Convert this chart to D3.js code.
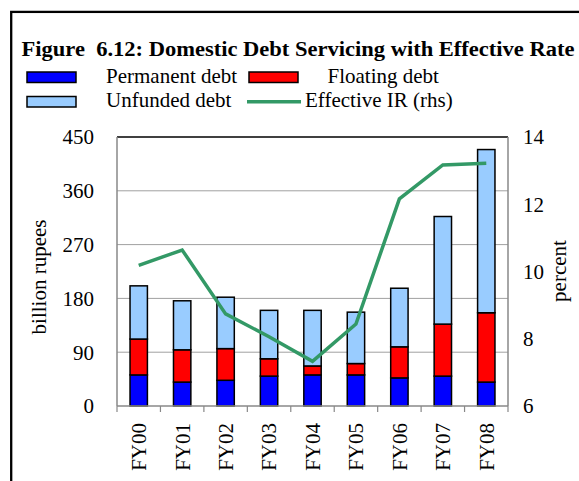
<!DOCTYPE html>
<html>
<head>
<meta charset="utf-8">
<script src="https://cdn.jsdelivr.net/npm/d3@7"></script>
<style>
  html, body { margin: 0; padding: 0; background: #fff; }
  svg { display: block; }
  text { font-family: "Liberation Serif", "Times New Roman", serif; fill: #000; white-space: pre; }
</style>
</head>
<body>
<svg id="chart" width="579" height="481"></svg>
<script>
// ---- data ----
const categories = ["FY00", "FY01", "FY02", "FY03", "FY04", "FY05", "FY06", "FY07", "FY08"];
const permanentDebt = [52, 40, 43, 50, 52, 52, 47, 50, 40];
const floatingDebt  = [60, 54, 53, 29, 15, 19, 52, 87, 116];
const unfundedDebt  = [89, 82, 86, 81, 93, 86, 98, 180, 273];
const effectiveIR   = [10.18, 10.64, 8.74, 8.06, 7.33, 8.44, 12.16, 13.17, 13.22];
const leftTicks  = [0, 90, 180, 270, 360, 450];
const rightTicks = [6, 8, 10, 12, 14];
const seriesNames = ["Permanent debt", "Floating debt", "Unfunded debt"];
const seriesColors = ["#0000FF", "#FF0000", "#99CCFF"];
const lineColor = "#339966";
const titleText = "Figure  6.12: Domestic Debt Servicing with Effective Rate";

// ---- layout ----
const svg = d3.select("#chart");
const L = 117, R = 508, T = 137, B = 406;

const x = d3.scaleBand().domain(categories).range([L, R]).paddingInner(0.6).paddingOuter(0.3);
const yL = d3.scaleLinear().domain([0, 450]).range([B, T]);
const yR = d3.scaleLinear().domain([6, 14]).range([B, T]);
const step = x.step();

// outer frame
svg.append("rect").attr("x", 11.2).attr("y", 11.9).attr("width", 700).attr("height", 600)
  .attr("fill", "none").attr("stroke", "#000").attr("stroke-width", 2.3);

// title
svg.append("text").attr("x", 21.5).attr("y", 55.5)
  .attr("font-size", 20).attr("font-weight", "bold")
  .attr("textLength", 553).attr("lengthAdjust", "spacingAndGlyphs")
  .attr("xml:space", "preserve")
  .text(titleText);

// legend
const leg = svg.append("g");
leg.append("rect").attr("x", 27).attr("y", 72).attr("width", 49).attr("height", 10.5)
  .attr("fill", seriesColors[0]).attr("stroke", "#000").attr("stroke-width", 1.5);
leg.append("text").attr("x", 106).attr("y", 83.3).attr("font-size", 21).text(seriesNames[0]);
leg.append("rect").attr("x", 249).attr("y", 72).attr("width", 49).attr("height", 10.5)
  .attr("fill", seriesColors[1]).attr("stroke", "#000").attr("stroke-width", 1.5);
leg.append("text").attr("x", 327.5).attr("y", 83.3).attr("font-size", 21).text(seriesNames[1]);
leg.append("rect").attr("x", 27).attr("y", 96.5).attr("width", 49).attr("height", 10.5)
  .attr("fill", seriesColors[2]).attr("stroke", "#000").attr("stroke-width", 1.5);
leg.append("text").attr("x", 106).attr("y", 107).attr("font-size", 21).text(seriesNames[2]);
leg.append("line").attr("x1", 247).attr("x2", 301).attr("y1", 101.7).attr("y2", 101.7)
  .attr("stroke", lineColor).attr("stroke-width", 3.5);
leg.append("text").attr("x", 305).attr("y", 107).attr("font-size", 21).text("Effective IR (rhs)");

// gridlines
svg.append("g").selectAll("line").data(leftTicks.filter(d => d > 0 && d < 450)).join("line")
  .attr("x1", L).attr("x2", R).attr("y1", d => yL(d)).attr("y2", d => yL(d))
  .attr("stroke", "#a0a0a0").attr("stroke-width", 1);

// plot frame
svg.append("line").attr("x1", L).attr("x2", R).attr("y1", T).attr("y2", T)
  .attr("stroke", "#000").attr("stroke-width", 1.5);
svg.append("line").attr("x1", L).attr("x2", L).attr("y1", T).attr("y2", B)
  .attr("stroke", "#888").attr("stroke-width", 1.5);
svg.append("line").attr("x1", R).attr("x2", R).attr("y1", T).attr("y2", B)
  .attr("stroke", "#888").attr("stroke-width", 1.5);

// stacked bars
const table = categories.map((c, i) => ({ cat: c, p: permanentDebt[i], f: floatingDebt[i], u: unfundedDebt[i] }));
const stack = d3.stack().keys(["p", "f", "u"])(table);
svg.append("g").selectAll("g").data(stack).join("g")
  .attr("fill", (d, i) => seriesColors[i])
  .selectAll("rect").data(d => d).join("rect")
  .attr("x", d => x(d.data.cat))
  .attr("width", x.bandwidth())
  .attr("y", d => yL(d[1]))
  .attr("height", d => yL(d[0]) - yL(d[1]))
  .attr("stroke", "#000").attr("stroke-width", 1.5);

// bottom axis
svg.append("line").attr("x1", L).attr("x2", R).attr("y1", B).attr("y2", B)
  .attr("stroke", "#888").attr("stroke-width", 1.5);
const bounds = categories.map(c => x(c) - step * 0.3).concat([R]);
svg.append("g").selectAll("line").data(bounds).join("line")
  .attr("x1", d => d).attr("x2", d => d).attr("y1", B).attr("y2", B + 6)
  .attr("stroke", "#888").attr("stroke-width", 1.2);
svg.append("g").selectAll("text").data(categories).join("text")
  .attr("transform", d => `translate(${x(d) + x.bandwidth() / 2},423) rotate(-90)`)
  .attr("text-anchor", "end").attr("dy", "0.35em").attr("font-size", 21)
  .text(d => d);

// line
const line = d3.line().x((d, i) => x(categories[i]) + x.bandwidth() / 2).y(d => yR(d));
svg.append("path").datum(effectiveIR).attr("d", line)
  .attr("fill", "none").attr("stroke", lineColor).attr("stroke-width", 3.5);

// left axis labels
svg.append("g").selectAll("text").data(leftTicks).join("text")
  .attr("x", 94).attr("y", d => yL(d)).attr("dy", "0.35em")
  .attr("text-anchor", "end").attr("font-size", 21).text(d => d);
// right axis labels
svg.append("g").selectAll("text").data(rightTicks).join("text")
  .attr("x", 523).attr("y", d => yR(d)).attr("dy", "0.35em")
  .attr("text-anchor", "start").attr("font-size", 21).text(d => d);

// axis titles
svg.append("text").attr("transform", "translate(46,277) rotate(-90)")
  .attr("text-anchor", "middle").attr("font-size", 21).text("billion rupees");
svg.append("text").attr("transform", "translate(566,271) rotate(-90)")
  .attr("text-anchor", "middle").attr("font-size", 21).text("percent");
</script>
</body>
</html>
